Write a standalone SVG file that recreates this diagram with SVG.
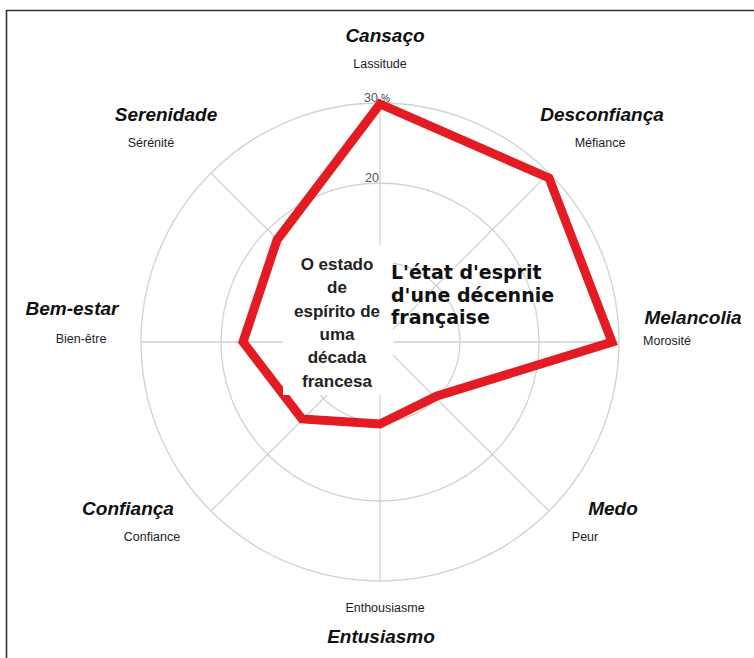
<svg xmlns="http://www.w3.org/2000/svg" width="754" height="658" viewBox="0 0 754 658">
<style>
.pt{font-family:"Liberation Sans",Arial,sans-serif;font-weight:bold;font-style:italic;font-size:19px;fill:#111;text-anchor:middle}
.fr{font-family:"Liberation Sans",Arial,sans-serif;font-size:12.5px;fill:#1c1c2a;text-anchor:middle}
.grid{fill:none;stroke:#d2d2d2;stroke-width:1.3}
.ctr{font-family:"Liberation Sans",Arial,sans-serif;font-weight:bold;font-size:17px;fill:#222;text-anchor:middle}
.fra{font-family:"DejaVu Sans",Inter,sans-serif;font-weight:bold;font-size:19px;fill:#111}
.tick{font-family:"Liberation Sans",Arial,sans-serif;font-size:12.5px;fill:#555}
</style>
<rect x="0" y="0" width="754" height="658" fill="#fff"/>
<g id="frame">
<line x1="6" y1="10.5" x2="754" y2="10.5" stroke="#333" stroke-width="1.6"/>
<line x1="6.5" y1="10" x2="6.5" y2="658" stroke="#333" stroke-width="1.6"/>
</g>
<g id="grid">
<circle class="grid" cx="380" cy="342" r="80"/>
<circle class="grid" cx="380" cy="342" r="159"/>
<circle class="grid" cx="380" cy="342" r="239"/>
<line class="grid" x1="380" y1="342" x2="380" y2="103"/>
<line class="grid" x1="380" y1="342" x2="549" y2="173"/>
<line class="grid" x1="380" y1="342" x2="619" y2="342"/>
<line class="grid" x1="380" y1="342" x2="549" y2="511"/>
<line class="grid" x1="380" y1="342" x2="380" y2="581"/>
<line class="grid" x1="380" y1="342" x2="211" y2="511"/>
<line class="grid" x1="380" y1="342" x2="141" y2="342"/>
<line class="grid" x1="380" y1="342" x2="211" y2="173"/>
</g>
<g id="connectors">
<polygon points="380,104 549,178 612,342 437,396 380,424 302,419 243,342 277,240" fill="none" stroke="#e31c24" stroke-width="9" stroke-linejoin="miter"/>
</g>
<g id="ticks">
<text class="tick" x="364" y="102">30</text>
<text x="381" y="102" font-family="Liberation Sans,Arial,sans-serif" font-size="10px" fill="#2a3550">%</text>
<text class="tick" x="365" y="182">20</text>
</g>
<g id="center-pt">
<rect x="283" y="245" width="110" height="150" fill="#fff"/>
<text class="ctr" x="337" y="270">O estado</text>
<text class="ctr" x="337" y="293">de</text>
<text class="ctr" x="337" y="317">espírito de</text>
<text class="ctr" x="337" y="340">uma</text>
<text class="ctr" x="337" y="363">década</text>
<text class="ctr" x="337" y="387">francesa</text>
</g>
<g id="center-fr">
<text class="fra" x="391" y="279">L'état d'esprit</text>
<text class="fra" x="391" y="301.5">d'une décennie</text>
<text class="fra" x="391" y="324">française</text>
</g>
<g id="axis-cansaco">
<text class="pt" x="385" y="42">Cansaço</text>
<text class="fr" x="380" y="68">Lassitude</text>
</g>
<g id="axis-desconfianca">
<text class="pt" x="602" y="121">Desconfiança</text>
<text class="fr" x="600" y="147">Méfiance</text>
</g>
<g id="axis-melancolia">
<text class="pt" x="693" y="324">Melancolia</text>
<text class="fr" x="667" y="345">Morosité</text>
</g>
<g id="axis-medo">
<text class="pt" x="613" y="515">Medo</text>
<text class="fr" x="585" y="541">Peur</text>
</g>
<g id="axis-entusiasmo">
<text class="fr" x="385" y="612">Enthousiasme</text>
<text class="pt" x="381" y="643">Entusiasmo</text>
</g>
<g id="axis-confianca">
<text class="pt" x="128" y="515">Confiança</text>
<text class="fr" x="152" y="541">Confiance</text>
</g>
<g id="axis-bemestar">
<text class="pt" x="72" y="315">Bem-estar</text>
<text class="fr" x="81" y="343">Bien-être</text>
</g>
<g id="axis-serenidade">
<text class="pt" x="166" y="121">Serenidade</text>
<text class="fr" x="151" y="147">Sérénité</text>
</g>
</svg>
